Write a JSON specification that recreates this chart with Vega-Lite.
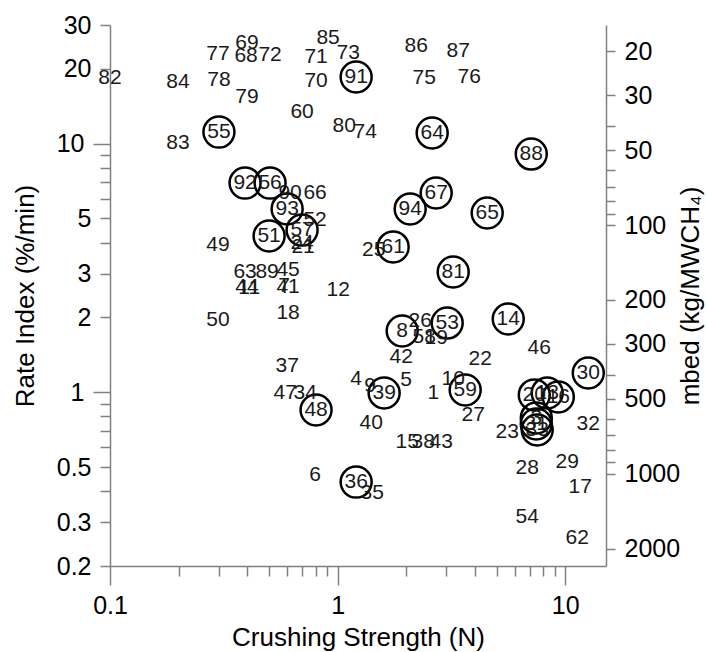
{
  "$schema": "https://vega.github.io/schema/vega-lite/v6.json",
  "autosize": {"type": "none"},
  "padding": {"left": 110, "top": 25, "right": 100, "bottom": 86},
  "width": 496,
  "height": 541,
  "background": "white",
  "config": {
    "view": {"stroke": null},
    "font": "Liberation Sans",
    "axis": {
      "domainColor": "#808080",
      "domainWidth": 1.5,
      "tickColor": "#808080",
      "tickWidth": 1.5,
      "labelColor": "#000000",
      "labelFont": "Liberation Sans",
      "labelFontSize": 25,
      "titleFont": "Liberation Sans",
      "titleFontSize": 26,
      "titleFontWeight": "normal",
      "titleColor": "#000000",
      "grid": false,
      "labelOverlap": false,
      "labelFlush": false,
      "labelBound": false
    }
  },
  "data": {
    "values": [
      {"id": "82", "cs": 0.1, "rate": 18.36, "circ": false},
      {"id": "84", "cs": 0.199, "rate": 17.69, "circ": false},
      {"id": "77", "cs": 0.298, "rate": 22.93, "circ": false},
      {"id": "69", "cs": 0.4, "rate": 25.39, "circ": false},
      {"id": "68", "cs": 0.396, "rate": 22.5, "circ": false},
      {"id": "72", "cs": 0.505, "rate": 22.72, "circ": false},
      {"id": "78", "cs": 0.301, "rate": 18.03, "circ": false},
      {"id": "79", "cs": 0.4, "rate": 15.4, "circ": false},
      {"id": "60", "cs": 0.698, "rate": 13.4, "circ": false},
      {"id": "71", "cs": 0.804, "rate": 22.3, "circ": false},
      {"id": "70", "cs": 0.804, "rate": 17.86, "circ": false},
      {"id": "85", "cs": 0.908, "rate": 26.6, "circ": false},
      {"id": "73", "cs": 1.112, "rate": 23.15, "circ": false},
      {"id": "91", "cs": 1.206, "rate": 18.53, "circ": true},
      {"id": "80", "cs": 1.068, "rate": 11.77, "circ": false},
      {"id": "74", "cs": 1.321, "rate": 11.13, "circ": false},
      {"id": "55", "cs": 0.301, "rate": 11.13, "circ": true},
      {"id": "83", "cs": 0.199, "rate": 10.06, "circ": false},
      {"id": "86", "cs": 2.214, "rate": 24.7, "circ": false},
      {"id": "87", "cs": 3.386, "rate": 23.58, "circ": false},
      {"id": "75", "cs": 2.4, "rate": 18.36, "circ": false},
      {"id": "76", "cs": 3.784, "rate": 18.53, "circ": false},
      {"id": "64", "cs": 2.602, "rate": 11.03, "circ": true},
      {"id": "88", "cs": 7.09, "rate": 9.08, "circ": true},
      {"id": "67", "cs": 2.71, "rate": 6.33, "circ": true},
      {"id": "92", "cs": 0.392, "rate": 6.94, "circ": true},
      {"id": "56", "cs": 0.505, "rate": 6.94, "circ": true},
      {"id": "90", "cs": 0.618, "rate": 6.33, "circ": false},
      {"id": "66", "cs": 0.796, "rate": 6.33, "circ": false},
      {"id": "93", "cs": 0.6, "rate": 5.46, "circ": true},
      {"id": "52", "cs": 0.796, "rate": 4.93, "circ": false},
      {"id": "57", "cs": 0.698, "rate": 4.49, "circ": true},
      {"id": "51", "cs": 0.5, "rate": 4.25, "circ": true},
      {"id": "24", "cs": 0.698, "rate": 3.98, "circ": false},
      {"id": "21", "cs": 0.705, "rate": 3.84, "circ": false},
      {"id": "49", "cs": 0.298, "rate": 3.91, "circ": false},
      {"id": "94", "cs": 2.083, "rate": 5.46, "circ": true},
      {"id": "65", "cs": 4.54, "rate": 5.26, "circ": true},
      {"id": "61", "cs": 1.754, "rate": 3.84, "circ": true},
      {"id": "25", "cs": 1.44, "rate": 3.73, "circ": false},
      {"id": "81", "cs": 3.219, "rate": 3.045, "circ": true},
      {"id": "63", "cs": 0.392, "rate": 3.045, "circ": false},
      {"id": "89", "cs": 0.49, "rate": 3.045, "circ": false},
      {"id": "45", "cs": 0.606, "rate": 3.1, "circ": false},
      {"id": "44", "cs": 0.4, "rate": 2.65, "circ": false},
      {"id": "11", "cs": 0.409, "rate": 2.63, "circ": false},
      {"id": "41", "cs": 0.606, "rate": 2.65, "circ": false},
      {"id": "7", "cs": 0.582, "rate": 2.67, "circ": false},
      {"id": "12", "cs": 1.005, "rate": 2.577, "circ": false},
      {"id": "50", "cs": 0.298, "rate": 1.952, "circ": false},
      {"id": "18", "cs": 0.606, "rate": 2.083, "circ": false},
      {"id": "14", "cs": 5.617, "rate": 1.97, "circ": true},
      {"id": "53", "cs": 3.029, "rate": 1.898, "circ": true},
      {"id": "26", "cs": 2.304, "rate": 1.933, "circ": false},
      {"id": "8", "cs": 1.921, "rate": 1.763, "circ": true},
      {"id": "58", "cs": 2.4, "rate": 1.668, "circ": false},
      {"id": "19", "cs": 2.71, "rate": 1.652, "circ": false},
      {"id": "42", "cs": 1.902, "rate": 1.386, "circ": false},
      {"id": "22", "cs": 4.23, "rate": 1.36, "circ": false},
      {"id": "46", "cs": 7.69, "rate": 1.506, "circ": false},
      {"id": "30", "cs": 12.62, "rate": 1.195, "circ": true},
      {"id": "37", "cs": 0.6, "rate": 1.275, "circ": false},
      {"id": "47", "cs": 0.588, "rate": 0.993, "circ": false},
      {"id": "34", "cs": 0.72, "rate": 0.993, "circ": false},
      {"id": "48", "cs": 0.804, "rate": 0.848, "circ": true},
      {"id": "4", "cs": 1.206, "rate": 1.13, "circ": false},
      {"id": "9", "cs": 1.39, "rate": 1.059, "circ": false},
      {"id": "39", "cs": 1.601, "rate": 0.993, "circ": true},
      {"id": "5", "cs": 2.0, "rate": 1.12, "circ": false},
      {"id": "1", "cs": 2.63, "rate": 0.993, "circ": false},
      {"id": "10", "cs": 3.219, "rate": 1.13, "circ": false},
      {"id": "59", "cs": 3.634, "rate": 1.021, "circ": true},
      {"id": "27", "cs": 3.94, "rate": 0.81, "circ": false},
      {"id": "20", "cs": 7.31, "rate": 0.975, "circ": true},
      {"id": "13", "cs": 8.33, "rate": 0.993, "circ": true},
      {"id": "16", "cs": 9.32, "rate": 0.957, "circ": true},
      {"id": "3", "cs": 7.46, "rate": 0.788, "circ": true},
      {"id": "31", "cs": 7.46, "rate": 0.745, "circ": true},
      {"id": "33", "cs": 7.53, "rate": 0.705, "circ": true},
      {"id": "23", "cs": 5.56, "rate": 0.692, "circ": false},
      {"id": "32", "cs": 12.62, "rate": 0.745, "circ": false},
      {"id": "40", "cs": 1.404, "rate": 0.752, "circ": false},
      {"id": "15", "cs": 2.02, "rate": 0.631, "circ": false},
      {"id": "38", "cs": 2.376, "rate": 0.631, "circ": false},
      {"id": "43", "cs": 2.85, "rate": 0.631, "circ": false},
      {"id": "28", "cs": 6.81, "rate": 0.496, "circ": false},
      {"id": "29", "cs": 10.2, "rate": 0.524, "circ": false},
      {"id": "17", "cs": 11.64, "rate": 0.416, "circ": false},
      {"id": "54", "cs": 6.81, "rate": 0.315, "circ": false},
      {"id": "62", "cs": 11.29, "rate": 0.259, "circ": false},
      {"id": "6", "cs": 0.796, "rate": 0.4645, "circ": false},
      {"id": "36", "cs": 1.206, "rate": 0.435, "circ": true},
      {"id": "35", "cs": 1.418, "rate": 0.393, "circ": false}
    ]
  },
  "resolve": {"scale": {"y": "independent"}, "axis": {"y": "independent"}},
  "layer": [
    {
      "layer": [
        {
          "transform": [{"filter": "datum.circ"}],
          "mark": {"type": "point", "shape": "circle", "filled": false, "size": 960, "stroke": "#000000", "strokeWidth": 2.5, "opacity": 1},
          "encoding": {
            "x": {"field": "cs", "type": "quantitative"},
            "y": {"field": "rate", "type": "quantitative"}
          }
        },
        {
          "mark": {"type": "text", "font": "Liberation Sans", "fontSize": 21, "color": "#1a1a1a", "align": "center", "baseline": "middle"},
          "encoding": {
            "x": {"field": "cs", "type": "quantitative"},
            "y": {"field": "rate", "type": "quantitative"},
            "text": {"field": "id"}
          }
        }
      ],
      "encoding": {
        "x": {
          "field": "cs",
          "type": "quantitative",
          "scale": {"type": "log", "domain": [0.1, 15.1], "nice": false},
          "axis": {
            "title": "Crushing Strength (N)",
            "values": [0.1, 0.2, 0.3, 0.4, 0.5, 0.6, 0.7, 0.8, 0.9, 1, 2, 3, 4, 5, 6, 7, 8, 9, 10],
            "format": "~g",
            "labelExpr": "(datum.value == 0.1 || datum.value == 1 || datum.value == 10) ? datum.label : ''",
            "tickSize": {"condition": {"test": "datum.value == 0.1 || datum.value == 1 || datum.value == 10", "value": 19}, "value": 10},
            "labelPadding": 8,
            "titlePadding": 6
          }
        },
        "y": {
          "field": "rate",
          "type": "quantitative",
          "scale": {"type": "log", "domain": [0.2, 30], "nice": false},
          "axis": {
            "orient": "left",
            "title": "Rate Index (%/min)",
            "values": [0.2, 0.3, 0.4, 0.5, 0.6, 0.7, 0.8, 0.9, 1, 2, 3, 4, 5, 6, 7, 8, 9, 10, 20, 30],
            "format": "~g",
            "labelExpr": "indexof([0.2, 0.3, 0.5, 1, 2, 3, 5, 10, 20, 30], datum.value) >= 0 ? datum.label : ''",
            "tickSize": {"condition": {"test": "datum.value == 1 || datum.value == 10", "value": 17}, "value": 10},
            "labelPadding": 9,
            "titlePadding": 18
          }
        }
      }
    },
    {
      "mark": {"type": "point", "opacity": 0},
      "encoding": {
        "x": {"field": "cs", "type": "quantitative"},
        "y": {
          "field": "rate",
          "type": "quantitative",
          "scale": {"type": "log", "domain": [15.667, 2350], "reverse": true, "nice": false},
          "axis": {
            "orient": "right",
            "title": "mbed (kg/MWCH₄)",
            "titleAngle": 270,
            "values": [20, 30, 40, 50, 60, 70, 80, 90, 100, 200, 300, 400, 500, 600, 700, 800, 900, 1000, 2000],
            "format": "~g",
            "labelExpr": "indexof([20, 30, 50, 100, 200, 300, 500, 1000, 2000], datum.value) >= 0 ? datum.label : ''",
            "tickSize": 9,
            "labelPadding": 9,
            "titlePadding": 24
          }
        }
      }
    }
  ]
}
